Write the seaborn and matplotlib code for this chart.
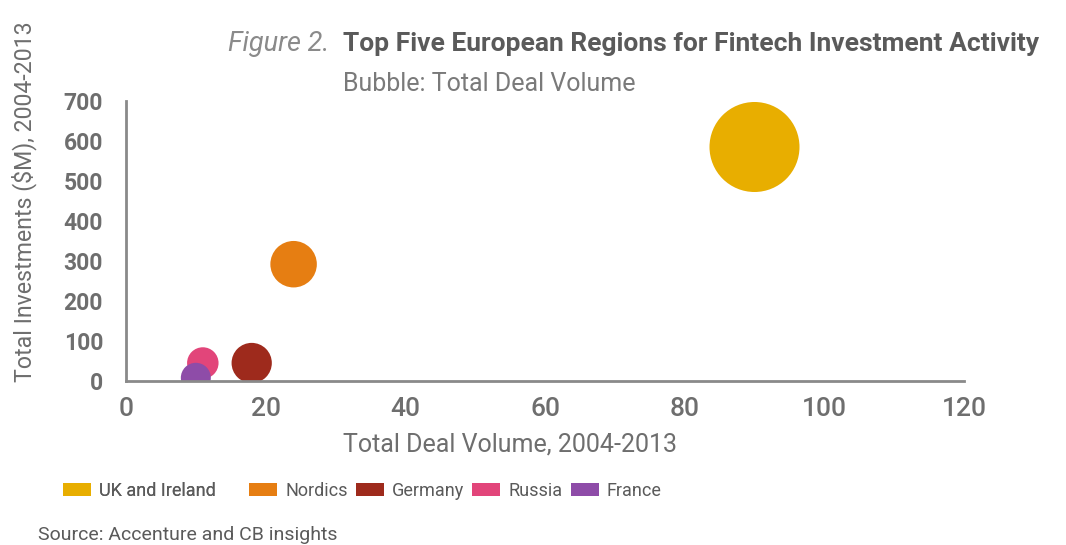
import matplotlib
matplotlib.use("Agg")
import matplotlib.pyplot as plt
from matplotlib.patches import Patch
import seaborn as sns
import pandas as pd

regions = ["UK and Ireland", "Nordics", "Germany", "Russia", "France"]
deal_volume = [90, 24, 18, 11, 10]
investments = [585, 292, 45, 45, 8]
colors = ["#E8AE00", "#E67E12", "#9E2A1C", "#E2457A", "#8E4CA8"]
x_ticks = [0, 20, 40, 60, 80, 100, 120]
y_ticks = [0, 100, 200, 300, 400, 500, 600, 700]

sns.set_style("white")
plt.rcParams["font.family"] = ["Roboto", "DejaVu Sans"]

W, H = 1066, 545
fig = plt.figure(figsize=(W / 100, H / 100), dpi=100)
ax = fig.add_axes([126 / W, 1 - 381 / H, 838 / W, 280 / H])

df = pd.DataFrame({"region": regions, "volume": deal_volume, "invest": investments})
palette = dict(zip(regions, colors))

# bubble area is proportional to the deal volume
sns.scatterplot(data=df, x="volume", y="invest", hue="region", palette=palette,
                size="volume", sizes=(0, 4200), size_norm=(0, 90),
                linewidth=0, alpha=1, legend=False, ax=ax)

grey = "#6e6e6e"
ax.set_xlim(0, 120)
ax.set_ylim(0, 700)
ax.set_xticks(x_ticks)
ax.set_yticks(y_ticks)
for s in ["top", "right"]:
    ax.spines[s].set_visible(False)
for s in ["left", "bottom"]:
    ax.spines[s].set_color("#8a8a8a")
    ax.spines[s].set_linewidth(2)
ax.tick_params(axis="y", colors="#8a8a8a", labelcolor=grey, labelsize=16.5,
               width=1.5, length=6.5, pad=10, direction="out")
ax.tick_params(axis="x", colors="#8a8a8a", labelcolor=grey, labelsize=19,
               width=1.5, length=13, pad=5, direction="inout")
for lab in ax.get_yticklabels():
    lab.set_fontweight("bold")
for lab in ax.get_xticklabels():
    lab.set_fontweight("medium")

ax.set_xlabel("Total Deal Volume, 2004-2013", fontsize=18, color=grey)
ax.xaxis.set_label_coords(0.458, -0.185)
ax.set_ylabel("Total Investments ($M), 2004-2013", fontsize=16.7, color=grey)
ax.yaxis.set_label_coords(-0.106, 0.64)

# title block
fig.text(228 / W, 1 - 44 / H, "Figure 2.", fontsize=19.5, style="italic",
         color="#8a8a8a", va="center", ha="left")
fig.text(343 / W, 1 - 44 / H, "Top Five European Regions for Fintech Investment Activity",
         fontsize=19, fontweight="bold", color="#5a5a5a", va="center", ha="left")
fig.text(343 / W, 1 - 84 / H, "Bubble: Total Deal Volume", fontsize=18,
         color="#7a7a7a", va="center", ha="left")

handles = [Patch(facecolor=c, edgecolor="none", label=r) for r, c in zip(regions, colors)]
leg_kw = dict(loc="center left", frameon=False, fontsize=13, handlelength=1.55,
              handleheight=0.75, handletextpad=0.45, columnspacing=0.45,
              labelcolor="#5a5a5a", borderpad=0, borderaxespad=0)
leg1 = fig.legend(handles=handles[:1], ncol=1, bbox_to_anchor=(63 / W, 1 - 491 / H), **leg_kw)
fig.legend(handles=handles[1:], ncol=4, bbox_to_anchor=(249 / W, 1 - 491 / H), **leg_kw)
fig.add_artist(leg1)

fig.text(38 / W, 1 - 535 / H, "Source: Accenture and CB insights", fontsize=14,
         color="#5a5a5a", va="center", ha="left")

fig.savefig("out.png", dpi=100, facecolor="white")
